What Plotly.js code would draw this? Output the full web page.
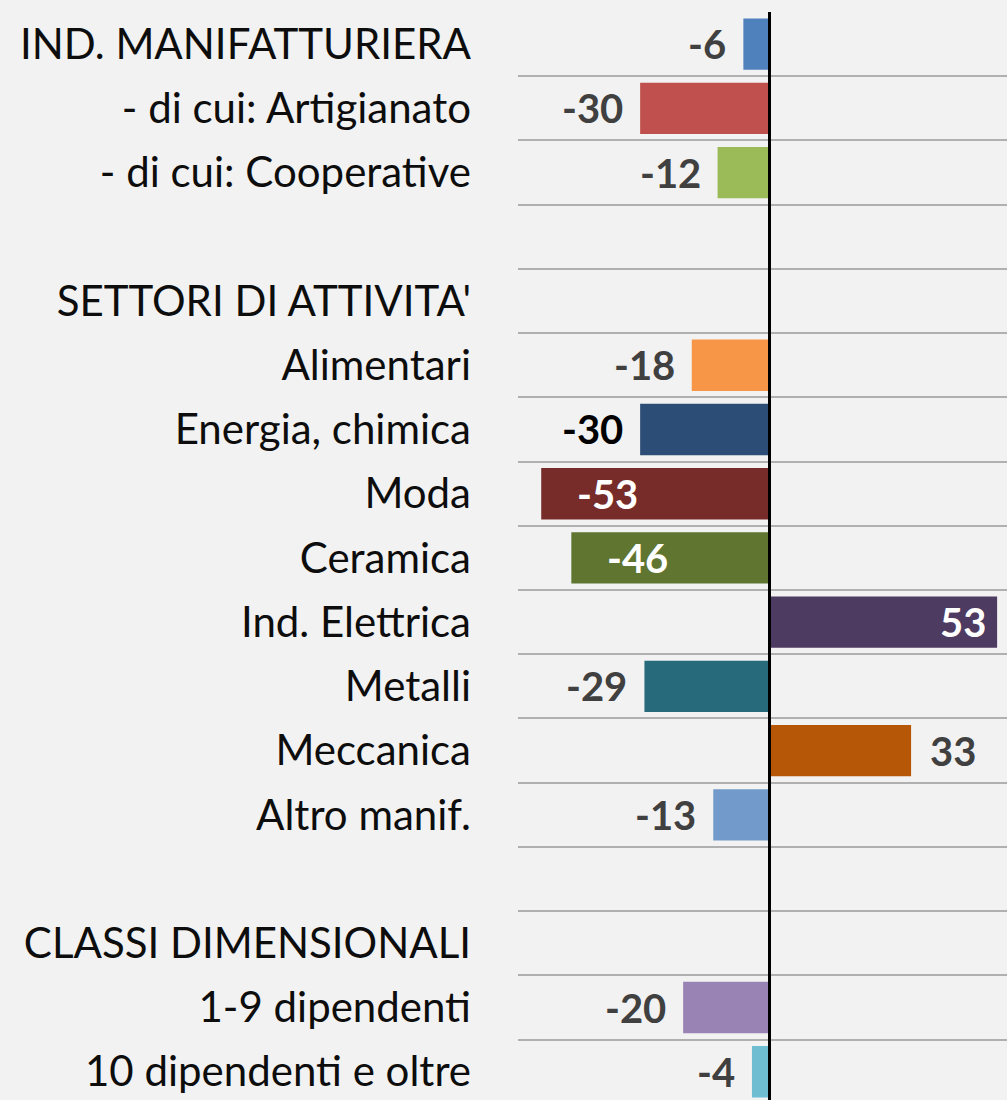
<!DOCTYPE html>
<html>
<head>
<meta charset="utf-8">
<script src="https://cdn.plot.ly/plotly-3.0.1.min.js"></script>
<style>html,body{margin:0;padding:0;background:#f2f2f2;}#chart{width:1007px;height:1100px;}</style>
</head>
<body>
<div id="chart"></div>
<script>
// Categories (blank rows are separators)
const categories = [
  "IND. MANIFATTURIERA",
  "- di cui: Artigianato",
  "- di cui: Cooperative",
  " ",
  "SETTORI DI ATTIVITA'",
  "Alimentari",
  "Energia, chimica",
  "Moda",
  "Ceramica",
  "Ind. Elettrica",
  "Metalli",
  "Meccanica",
  "Altro manif.",
  "  ",
  "CLASSI DIMENSIONALI",
  "1-9 dipendenti",
  "10 dipendenti e oltre"
];
const values = [-6, -30, -12, null, null, -18, -30, -53, -46, 53, -29, 33, -13, null, null, -20, -4];
const labels = ["-6", "-30", "-12", "", "", "-18", "-30", "-53", "-46", "53", "-29", "33", "-13", "", "", "-20", "-4"];

// Styles
const barColors = ["#4f81bd", "#c0504d", "#9bbb59", "#000", "#000", "#f79646", "#2c4d75", "#772c2a", "#5f7530", "#4d3b62", "#276a7c", "#b65708", "#729aca", "#000", "#000", "#9983b5", "#6fbdd1"];
const labelInside = [false, false, false, false, false, false, false, true, true, true, false, false, false, false, false, false, false];
const labelColors = ["#404040", "#404040", "#404040", "", "", "#404040", "#000000", "#ffffff", "#ffffff", "#ffffff", "#404040", "#404040", "#404040", "", "", "#404040", "#404040"];

const FONT = "Lato, 'Noto Sans', sans-serif";

const trace = {
  type: "bar",
  orientation: "h",
  y: categories,
  x: values,
  width: 0.8,
  marker: {color: barColors, line: {width: 0}},
  hoverinfo: "skip"
};

const annotations = [];
values.forEach((v, i) => {
  if (v === null) return;
  let xanchor, xshift;
  if (labelInside[i]) {
    if (v < 0) { xanchor = "left"; xshift = 34; } else { xanchor = "right"; xshift = -9; }
  } else {
    if (v < 0) { xanchor = "right"; xshift = -15; } else { xanchor = "left"; xshift = 17; }
  }
  annotations.push({
    x: v, y: categories[i], xref: "x", yref: "y",
    text: "<b>" + labels[i] + "</b>",
    showarrow: false, xanchor: xanchor, yanchor: "middle", xshift: xshift,
    font: {family: FONT, size: 40, color: labelColors[i]}
  });
});

const layout = {
  width: 1007, height: 1100,
  paper_bgcolor: "#f2f2f2", plot_bgcolor: "#f2f2f2",
  margin: {l: 518, r: 0, t: 12, b: 0},
  showlegend: false,
  font: {family: FONT, color: "#0d0d0d"},
  xaxis: {
    range: [-58.4, 55.3],
    showgrid: false, showticklabels: false, ticks: "",
    zeroline: true, zerolinecolor: "#000000", zerolinewidth: 3,
    zerolinelayer: "above traces",
    fixedrange: true
  },
  yaxis: {
    type: "category",
    categoryorder: "array", categoryarray: categories,
    range: [16.44, -0.5],
    tickson: "boundaries",
    showgrid: true, gridcolor: "#b0b0b0", gridwidth: 2,
    ticks: "", ticklen: 0,
    ticklabelstandoff: 46,
    tickfont: {family: FONT, size: 42, color: "#0d0d0d"},
    zeroline: false, showline: false,
    fixedrange: true
  },
  annotations: annotations,
  bargap: 0.2
};

Plotly.newPlot("chart", [trace], layout, {displayModeBar: false, staticPlot: true});
</script>
</body>
</html>
